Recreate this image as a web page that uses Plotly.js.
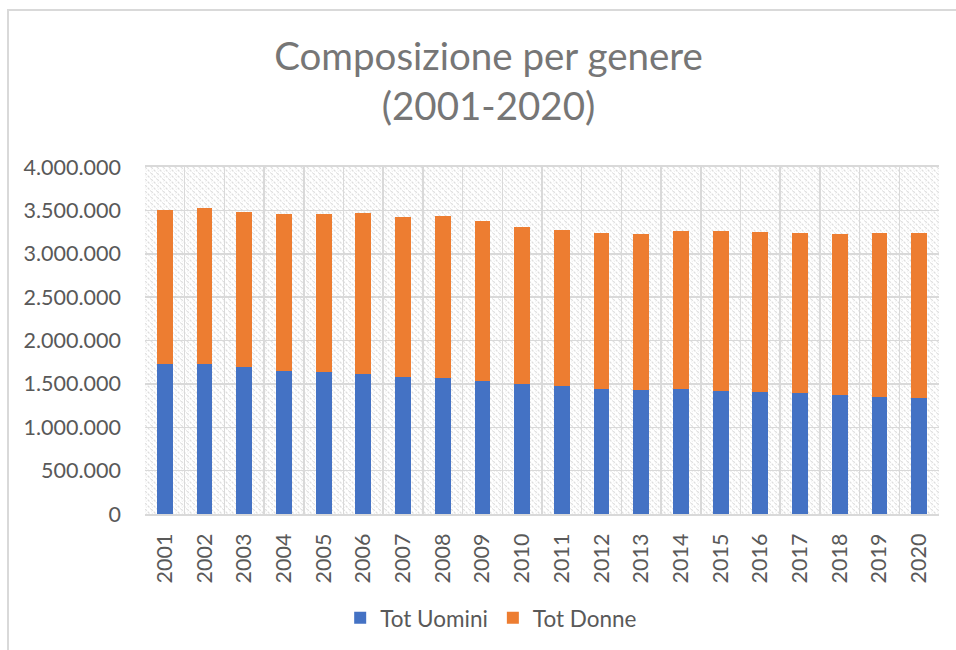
<!DOCTYPE html>
<html>
<head>
<meta charset="utf-8">
<script src="https://cdn.plot.ly/plotly-3.0.1.min.js"></script>
<style>
  html, body { margin: 0; padding: 0; background: #fff; }
  #frame { position: absolute; left: 7px; top: 9px; width: 1000px; height: 700px;
           border-top: 2px solid #d9d9d9; border-left: 2px solid #d9d9d9; box-sizing: border-box; pointer-events: none; z-index: 5; }
  #chart { position: absolute; left: 0; top: 0; width: 956px; height: 650px; }
</style>
</head>
<body>
<div id="chart"></div>
<div id="frame"></div>
<script>
const years = ['2001','2002','2003','2004','2005','2006','2007','2008','2009','2010',
               '2011','2012','2013','2014','2015','2016','2017','2018','2019','2020'];
const totUomini = [1726000,1730000,1696000,1650000,1638000,1615000,1576000,1565000,1534000,1495000,
                   1472000,1438000,1426000,1442000,1423000,1408000,1392000,1373000,1350000,1334000];
const totDonne = [1774000,1798000,1781000,1804000,1816000,1855000,1851000,1870000,1839000,1817000,
                  1806000,1797000,1802000,1820000,1835000,1843000,1851000,1850000,1893000,1906000];
const seriesNames = ['Tot Uomini','Tot Donne'];
const titleLines = ['Composizione per genere','(2001-2020)'];

const W = 794, H = 347;
const hatch = "<svg xmlns='http://www.w3.org/2000/svg' width='" + W + "' height='" + H + "' viewBox='0 0 " + W + " " + H + "' preserveAspectRatio='none'>" +
  "<defs><pattern id='p' width='6' height='6' patternUnits='userSpaceOnUse'>" +
  "<rect width='6' height='6' fill='#ffffff'/>" +
  "<path d='M-1.5,1.5 L1.5,4.5 M0,0 L6,6 M4.5,-1.5 L7.5,1.5' stroke='#dedede' stroke-width='1.2' stroke-dasharray='2.5,1.3'/>" +
  "</pattern></defs><rect width='100%' height='100%' fill='url(#p)'/></svg>";
const hatchUri = 'data:image/svg+xml;charset=utf-8,' + encodeURIComponent(hatch);

const font = 'Lato, "Open Sans", sans-serif';

const traces = [
  { type: 'bar', x: years, y: totUomini, name: seriesNames[0], marker: { color: '#4472C4' } },
  { type: 'bar', x: years, y: totDonne, name: seriesNames[1], marker: { color: '#ED7D31' } }
];

const layout = {
  width: 956, height: 650,
  barmode: 'stack',
  bargap: 0.6,
  separators: ',.',
  paper_bgcolor: '#ffffff',
  plot_bgcolor: 'rgba(0,0,0,0)',
  margin: { l: 145, r: 17, t: 167, b: 136, pad: 0, autoexpand: false },
  font: { family: font, color: '#595959', size: 21 },
  title: {
    text: titleLines.join('<br>'),
    font: { family: font, size: 38.5, color: '#767676' },
    x: 0.511, xanchor: 'center', xref: 'container',
    y: 0.892, yanchor: 'top', yref: 'container'
  },
  xaxis: {
    type: 'category',
    tickangle: -90,
    tickson: 'boundaries',
    ticks: '',
    showgrid: true, gridcolor: '#d9d9d9', gridwidth: 1.5,
    showline: true, linecolor: '#d9d9d9', linewidth: 2, mirror: true,
    tickfont: { family: font, size: 21.5, color: '#595959' },
    ticklabelstandoff: 9,
    fixedrange: true
  },
  yaxis: {
    range: [0, 4000000],
    dtick: 500000,
    tickformat: ',d',
    ticks: '',
    showgrid: true, gridcolor: '#d9d9d9', gridwidth: 1.5,
    zeroline: false,
    showline: false,
    tickfont: { family: font, size: 21.5, color: '#595959' },
    ticklabelstandoff: 23,
    fixedrange: true
  },
  legend: {
    orientation: 'h',
    x: 0.436, xanchor: 'center', xref: 'paper',
    y: -0.3, yanchor: 'middle',
    font: { family: font, size: 22.5, color: '#595959' },
    itemwidth: 30,
    traceorder: 'normal'
  },
  images: [{
    source: hatchUri, xref: 'paper', yref: 'paper',
    x: 0, y: 1, sizex: 1, sizey: 1, xanchor: 'left', yanchor: 'top',
    sizing: 'stretch', layer: 'below'
  }],
  showlegend: true
};

Plotly.newPlot('chart', traces, layout, { displayModeBar: false, staticPlot: true });
</script>
</body>
</html>
